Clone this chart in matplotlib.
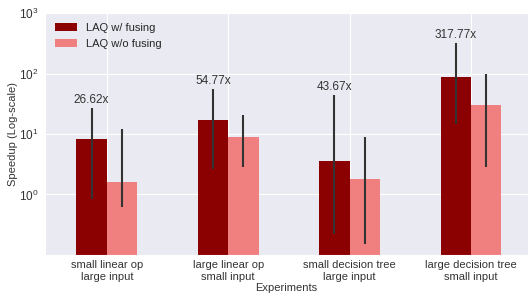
import numpy as np
import matplotlib
matplotlib.use("Agg")
import matplotlib.pyplot as plt
import seaborn as sns

sns.set_style("darkgrid")
plt.rcParams['font.family'] = ['Liberation Sans', 'DejaVu Sans']

# 实验名称
experiments = ["small linear op\nlarge input", "large linear op\nsmall input",
               "small decision tree\nlarge input", "large decision tree\nsmall input"]
# 平均加速比
fused = [8.4, 17.4, 3.65, 89.0]
unfused = [1.64, 9.1, 1.77, 30.8]
# 误差范围（下限、上限）
fused_lo = [0.83, 2.6, 0.226, 14.4]
fused_hi = [26.62, 54.77, 43.67, 317.77]
unfused_lo = [0.63, 2.8, 0.15, 2.9]
unfused_hi = [12.3, 21.0, 9.1, 100.0]
peak_labels = ["26.62x", "54.77x", "43.67x", "317.77x"]

fig, ax = plt.subplots(figsize=(5.28, 2.94), dpi=100)
x = np.arange(len(experiments))
w = 0.25

fused = np.array(fused)
unfused = np.array(unfused)
err_f = [fused - np.array(fused_lo), np.array(fused_hi) - fused]
err_u = [unfused - np.array(unfused_lo), np.array(unfused_hi) - unfused]

ax.bar(x - w/2, fused, w, color="#8b0000", label="LAQ w/ fusing", linewidth=0,
       yerr=err_f, error_kw=dict(ecolor="#333333", elinewidth=1.5, capsize=0))
ax.bar(x + w/2, unfused, w, color="#f08080", label="LAQ w/o fusing", linewidth=0,
       yerr=err_u, error_kw=dict(ecolor="#333333", elinewidth=1.5, capsize=0))

for i in range(len(x)):
    ax.text(x[i] - w/2, fused_hi[i] * 1.08, peak_labels[i], ha="center", va="bottom",
            fontsize=8.5, color="#333333")

ax.set_yscale("log")
ax.set_ylim(0.1, 1000)
ax.set_yticks([1, 10, 100, 1000])
ax.set_xlim(-0.51, 3.47)
ax.set_xticks(x)
ax.set_xticklabels(experiments, fontsize=8, color="#333333", linespacing=1.15)
ax.tick_params(axis="x", pad=0.5)
ax.tick_params(axis="y", labelsize=8.5, labelcolor="#333333", pad=1)
ax.set_ylabel("Speedup (Log-scale)", fontsize=8, color="#333333", labelpad=1)
ax.set_xlabel("Experiments", fontsize=8, color="#333333", labelpad=1)
leg = ax.legend(loc="upper left", frameon=False, fontsize=8, handlelength=2.0)

plt.subplots_adjust(left=0.085, right=1.0, top=0.955, bottom=0.133)
plt.savefig("out.png", dpi=100)
